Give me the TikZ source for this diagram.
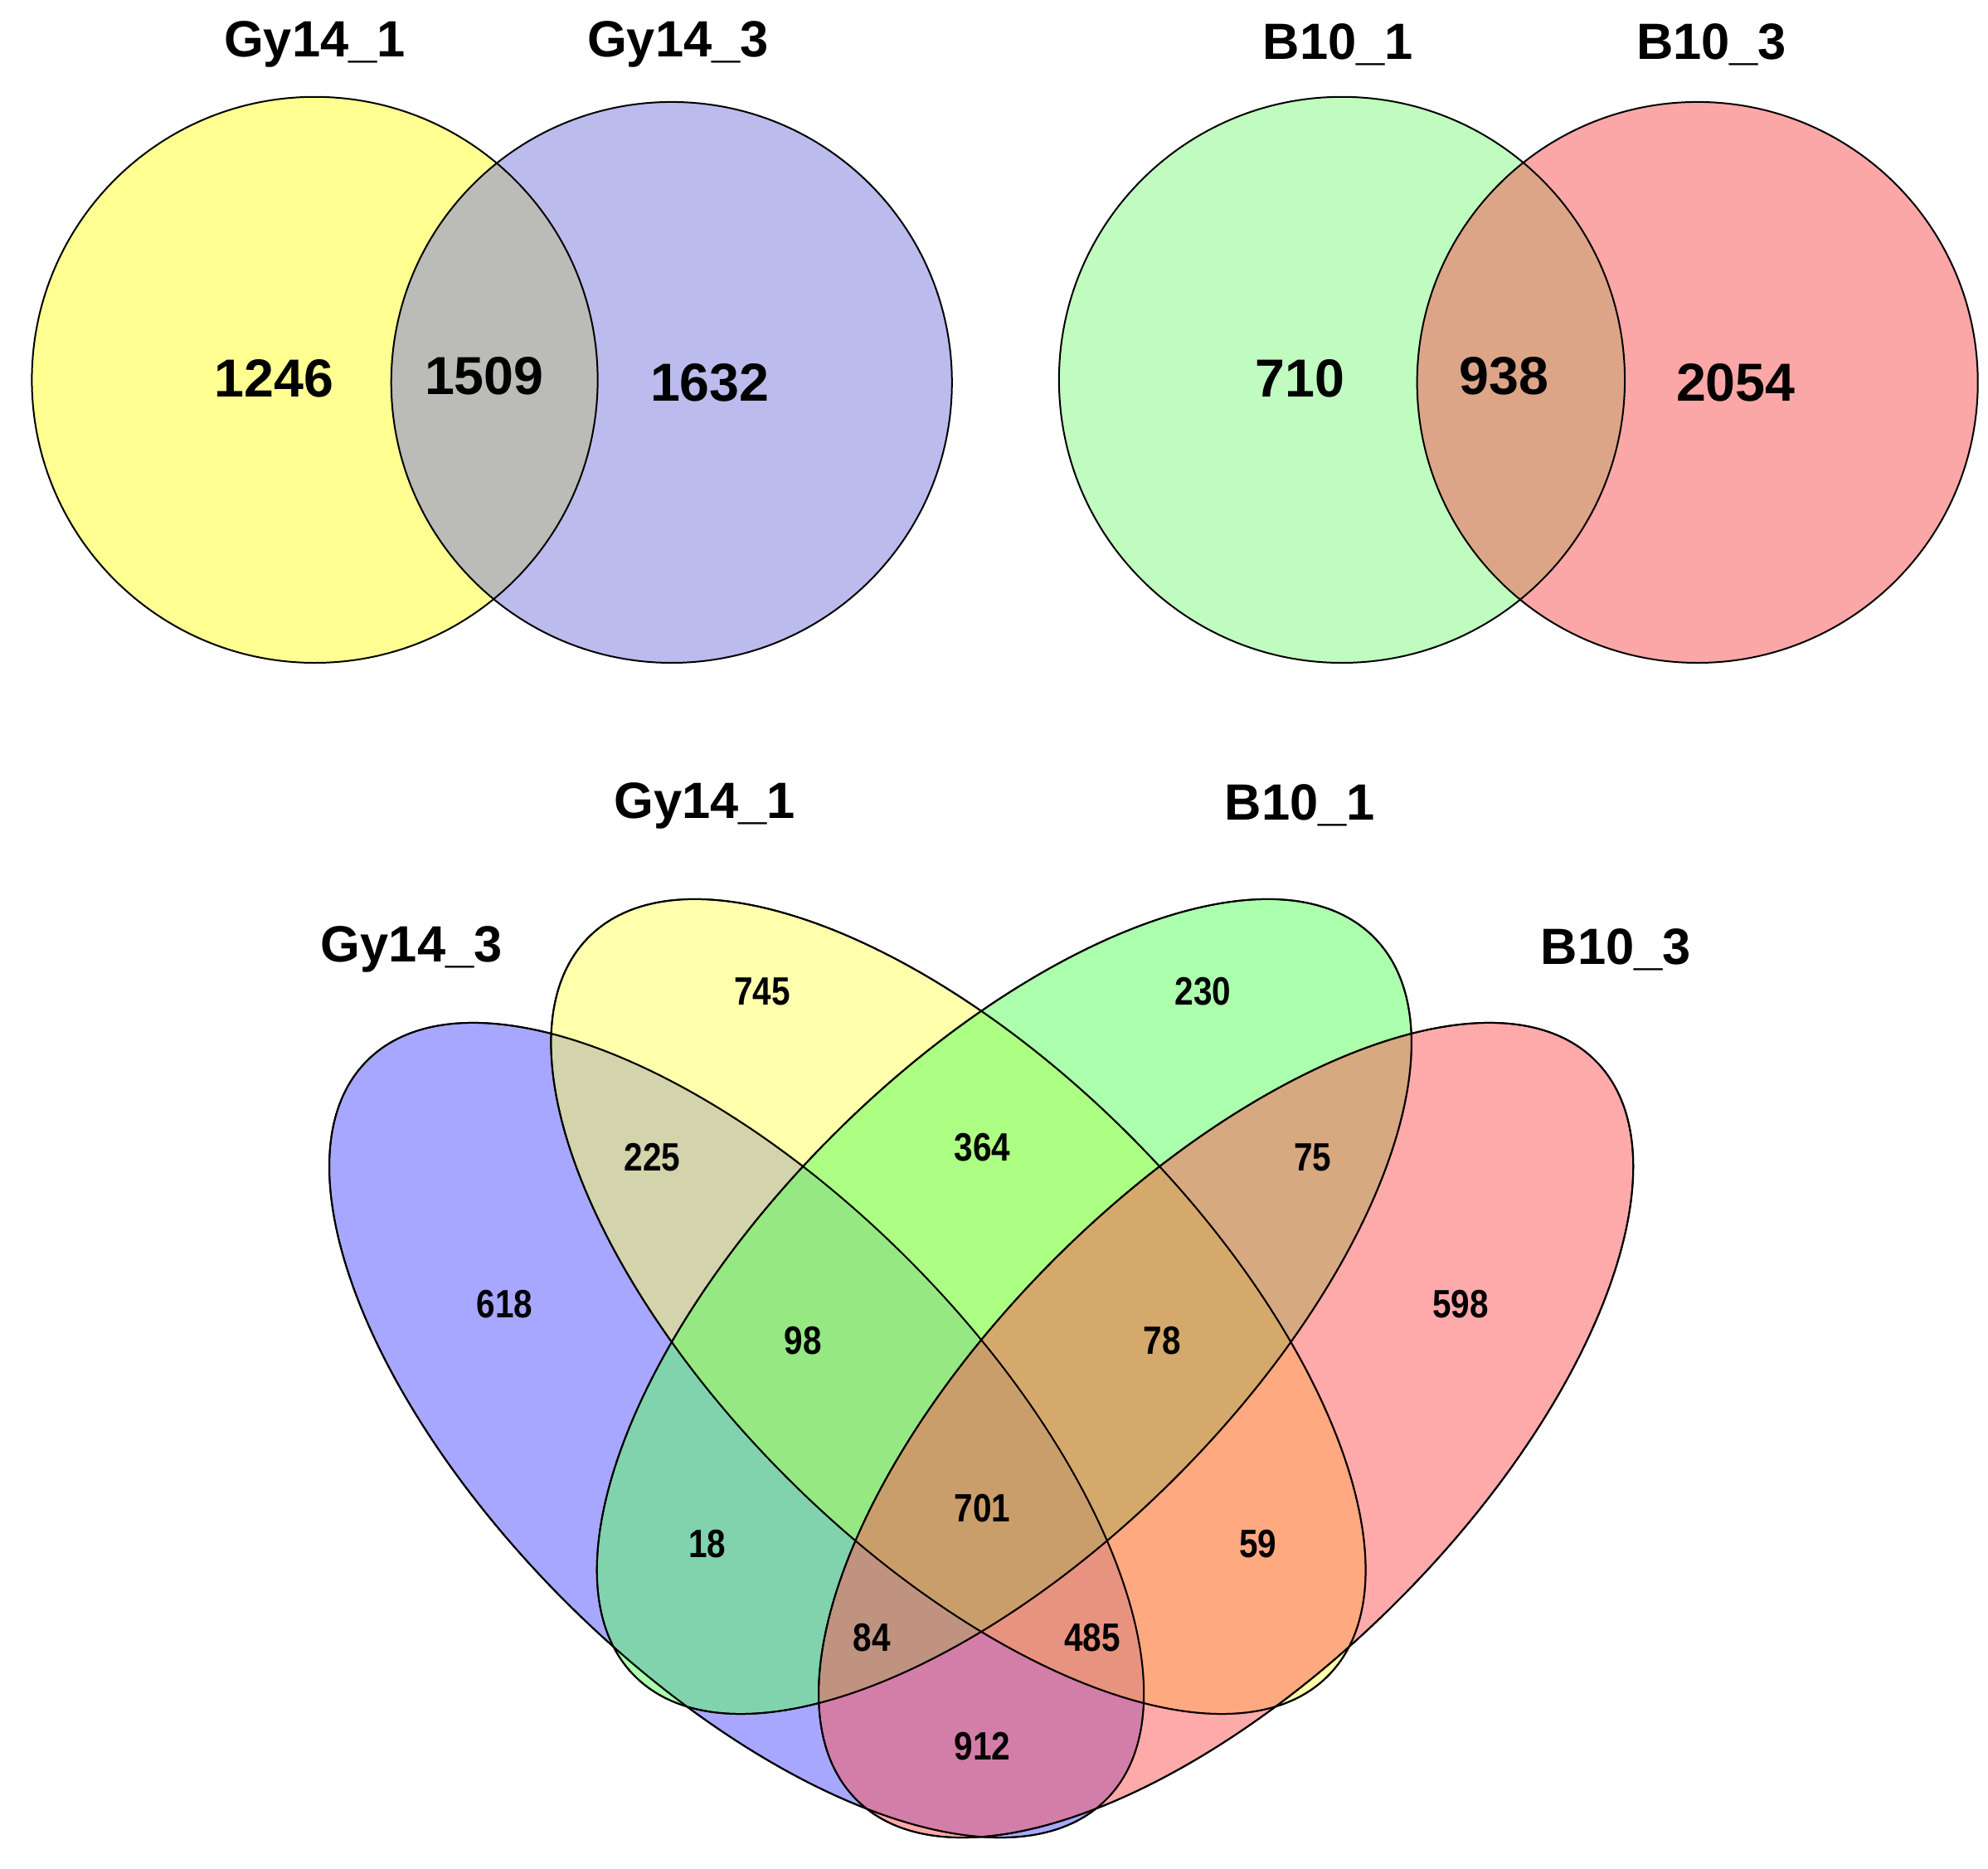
\documentclass[tikz,border=0pt]{standalone}
\usepackage{fontspec}
\setmainfont{Liberation Sans}
\begin{document}
\begin{tikzpicture}[x=1pt,y=-1pt,
  lab/.style={font=\fontsize{40}{44}\selectfont\bfseries},
  big/.style={font=\fontsize{42}{46}\selectfont\bfseries},
  num/.style={font=\fontsize{31}{34}\selectfont\bfseries, xscale=0.85},
  ring/.style={draw=black, line width=1.3pt},
  ell/.style={ring, fill opacity=0.5, x radius=410, y radius=190}]
\useasboundingbox (0,0) rectangle (1560,1466);
% top left
\fill[fill={rgb,255:red,255;green,255;blue,110}, fill opacity=0.75] (247,298) circle (222);
\fill[fill={rgb,255:red,120;green,120;blue,220}, fill opacity=0.5] (527,300) circle (220);
\draw[ring] (247,298) circle (222);
\draw[ring] (527,300) circle (220);
\node[lab] (t1) at (247,35) {Gy14\_1};
\node[lab] (t2) at (532,35) {Gy14\_3};
\node[big] (n1) at (215,297) {1246};
\node[big] (n2) at (380,295) {1509};
\node[big] (n3) at (557,300) {1632};
% top right
\fill[fill={rgb,255:red,130;green,250;blue,130}, fill opacity=0.5] (1053,298) circle (222);
\fill[fill={rgb,255:red,250;green,80;blue,80}, fill opacity=0.5] (1332,300) circle (220);
\draw[ring] (1053,298) circle (222);
\draw[ring] (1332,300) circle (220);
\node[lab] (t3) at (1050,35) {B10\_1};
\node[lab] (t4) at (1343,35) {B10\_3};
\node[big] (n4) at (1020,297) {710};
\node[big] (n5) at (1180,295) {938};
\node[big] (n6) at (1362,300) {2054};
% bottom four-set
\draw[ell, fill={rgb,255:red,80;green,80;blue,255}, rotate around={-45:(578,1122)}] (578,1122) ellipse [];
\draw[ell, fill={rgb,255:red,255;green,255;blue,90}, rotate around={-45:(752,1025)}] (752,1025) ellipse [];
\draw[ell, fill={rgb,255:red,90;green,255;blue,90}, rotate around={45:(788,1025)}] (788,1025) ellipse [];
\draw[ell, fill={rgb,255:red,255;green,85;blue,85}, rotate around={45:(962,1122)}] (962,1122) ellipse [];
\draw[ring, rotate around={-45:(578,1122)}] (578,1122) ellipse [x radius=410, y radius=190];
\draw[ring, rotate around={-45:(752,1025)}] (752,1025) ellipse [x radius=410, y radius=190];
\draw[ring, rotate around={45:(788,1025)}] (788,1025) ellipse [x radius=410, y radius=190];
\draw[ring, rotate around={45:(962,1122)}] (962,1122) ellipse [x radius=410, y radius=190];
\node[lab] (b1) at (553,632) {Gy14\_1};
\node[lab] (b2) at (1020,632) {B10\_1};
\node[lab] (b3) at (323,745) {Gy14\_3};
\node[lab] (b4) at (1268,745) {B10\_3};
\node[num] at (598,778) {745};
\node[num] at (944,778) {230};
\node[num] at (512,908) {225};
\node[num] at (771,900) {364};
\node[num] at (1030,908) {75};
\node[num] at (396,1023) {618};
\node[num] at (630,1052) {98};
\node[num] at (912,1052) {78};
\node[num] at (1146,1023) {598};
\node[num] at (771,1183) {701};
\node[num] at (555,1211) {18};
\node[num] at (987,1211) {59};
\node[num] at (684,1285) {84};
\node[num] at (857,1285) {485};
\node[num] at (771,1370) {912};
\end{tikzpicture}
\end{document}
